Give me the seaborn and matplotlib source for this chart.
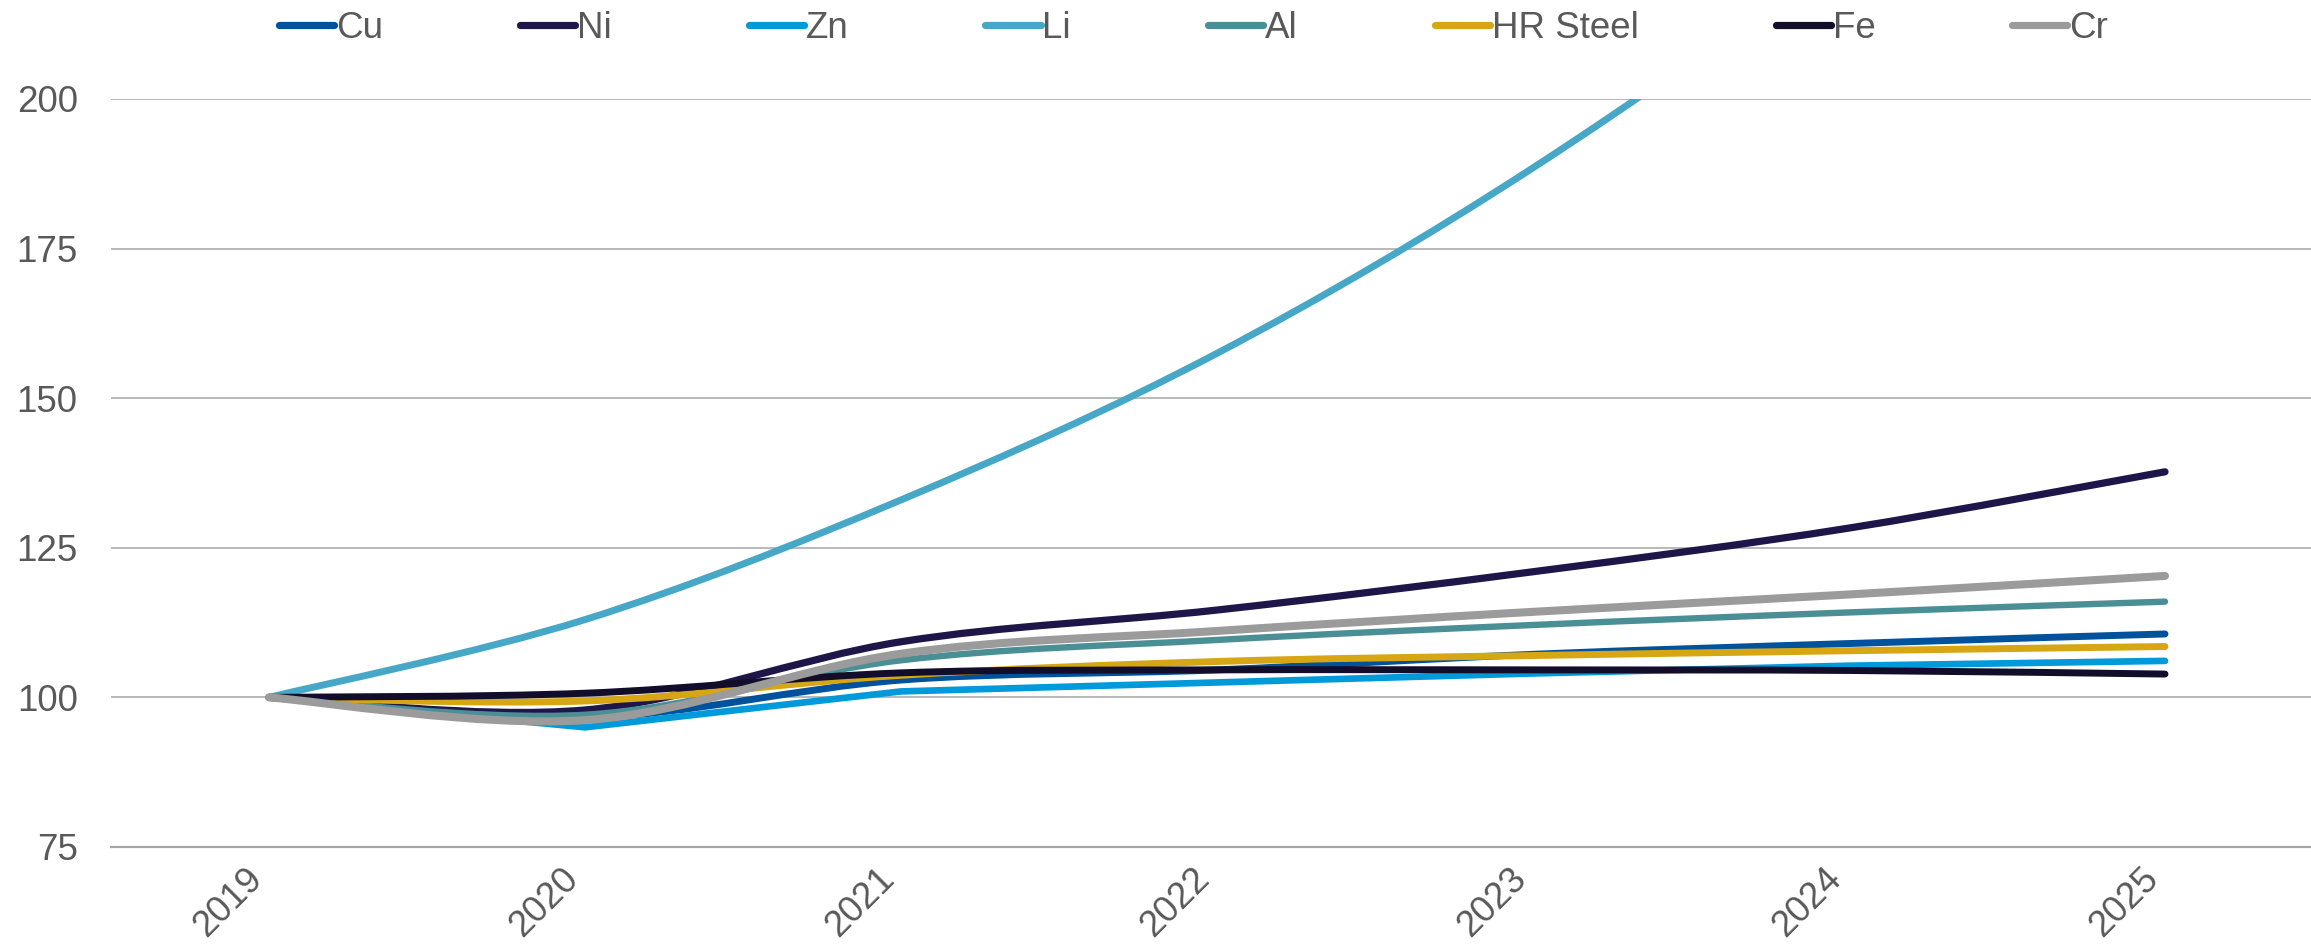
import numpy as np
import pandas as pd
import matplotlib
matplotlib.use("Agg")
import matplotlib.pyplot as plt
import seaborn as sns
from matplotlib.path import Path
from matplotlib.patches import PathPatch
from matplotlib.lines import Line2D

# Price index by metal, 2019 = 100
years = ["2019", "2020", "2021", "2022", "2023", "2024", "2025"]
cu = [100, 96.6, 102.9, 104.6, 107.2, 109.0, 110.6]
ni = [100, 97.9, 109.3, 114.6, 121.0, 128.3, 137.7]
zn = [100, 95.0, 101.0, 102.5, 104.0, 105.3, 106.1]
li = [100, 113.0, 133.0, 157.5, 188.5, 226.0, 271.0]
al = [100, 97.1, 106.2, 109.6, 112.1, 114.2, 116.0]
hr_steel = [100, 99.4, 103.7, 106.0, 107.0, 107.8, 108.5]
fe = [100, 100.7, 104.1, 104.6, 104.6, 104.5, 103.9]
cr = [100, 96.2, 107.3, 111.1, 114.3, 117.2, 120.3]

metals = ["Cu", "Ni", "Zn", "Li", "Al", "HR Steel", "Fe", "Cr"]
series = [cu, ni, zn, li, al, hr_steel, fe, cr]
colors = ["#00529C", "#1E1548", "#009ADB", "#46A8C6", "#4B8F96", "#D6A615", "#110D2B", "#9B9B9B"]
widths = [5.0, 5.2, 4.8, 5.0, 4.6, 5.0, 5.0, 5.8]
smooth = [True, True, False, True, True, True, True, True]

df = pd.DataFrame({
    "idx": np.tile(np.arange(len(years)), len(metals)),
    "metal": np.repeat(metals, len(years)),
    "value": np.concatenate(series),
})

sns.set_style("white")
plt.rcParams["font.family"] = ["Liberation Sans", "DejaVu Sans"]
TXT = "#595959"
GRID = "#A6A6A6"
FS = 26.5

W, H = 2311, 944
fig = plt.figure(figsize=(W / 100, H / 100), dpi=100)
ax = fig.add_axes([111 / W, 97 / H, 2212 / W, 748 / H])


def bezier_path(xy):
    """Cubic Bezier path through the points (Catmull-Rom style tangents)."""
    n = len(xy)
    verts = [xy[0]]
    codes = [Path.MOVETO]
    for i in range(n - 1):
        p0 = xy[max(i - 1, 0)]
        p1 = xy[i]
        p2 = xy[i + 1]
        p3 = xy[min(i + 2, n - 1)]
        verts += [p1 + (p2 - p0) / 6, p2 - (p3 - p1) / 6, p2]
        codes += [Path.CURVE4] * 3
    return Path(verts, codes)


for z, (m, c, lw, sm) in enumerate(zip(metals, colors, widths, smooth)):
    sub = df[df["metal"] == m]
    sns.lineplot(data=sub, x="idx", y="value", color=c, linewidth=lw,
                 estimator=None, sort=False, legend=False, ax=ax)
    line = ax.lines[-1]
    line.set_solid_capstyle("round")
    line.set_solid_joinstyle("round")
    line.set_zorder(3 + z)
    if sm:
        line.set_visible(False)
        patch = PathPatch(bezier_path(line.get_xydata()), facecolor="none",
                          edgecolor=c, lw=lw, capstyle="round",
                          joinstyle="round", zorder=3 + z)
        ax.add_patch(patch)

ax.set_xlim(-0.5, len(years) - 0.5)
ax.set_ylim(75, 200)
ax.set_xlabel("")
ax.set_ylabel("")

ax.set_xticks(range(len(years)))
ax.set_xticklabels(years, rotation=45, ha="right")
ax.set_xticks(np.arange(-0.5, len(years), 1), minor=True)
ax.tick_params(axis="x", which="major", length=0, pad=10, labelsize=FS, labelcolor=TXT)
ax.tick_params(axis="x", which="minor", length=8, width=1, color=GRID, direction="out")

ax.set_yticks([75, 100, 125, 150, 175, 200])
ax.tick_params(axis="y", length=0, pad=24, labelsize=FS, labelcolor=TXT)
ax.yaxis.grid(True, color=GRID, linewidth=1.1)
ax.xaxis.grid(False)
ax.set_axisbelow(True)

for s in ["left", "right", "top"]:
    ax.spines[s].set_visible(False)
ax.spines["bottom"].set_color(GRID)
ax.spines["bottom"].set_linewidth(1.6)

handles = [Line2D([], [], color=c, lw=5.2, solid_capstyle="round") for c in colors]
fig.legend(handles, metals, loc="center left", bbox_to_anchor=(279 / W, 1 - 28 / H),
           ncol=len(metals), frameon=False, handlelength=1.5, handletextpad=0.05,
           columnspacing=3.72, borderpad=0, borderaxespad=0, fontsize=FS,
           labelcolor=TXT)

fig.savefig("out.png", dpi=100)
